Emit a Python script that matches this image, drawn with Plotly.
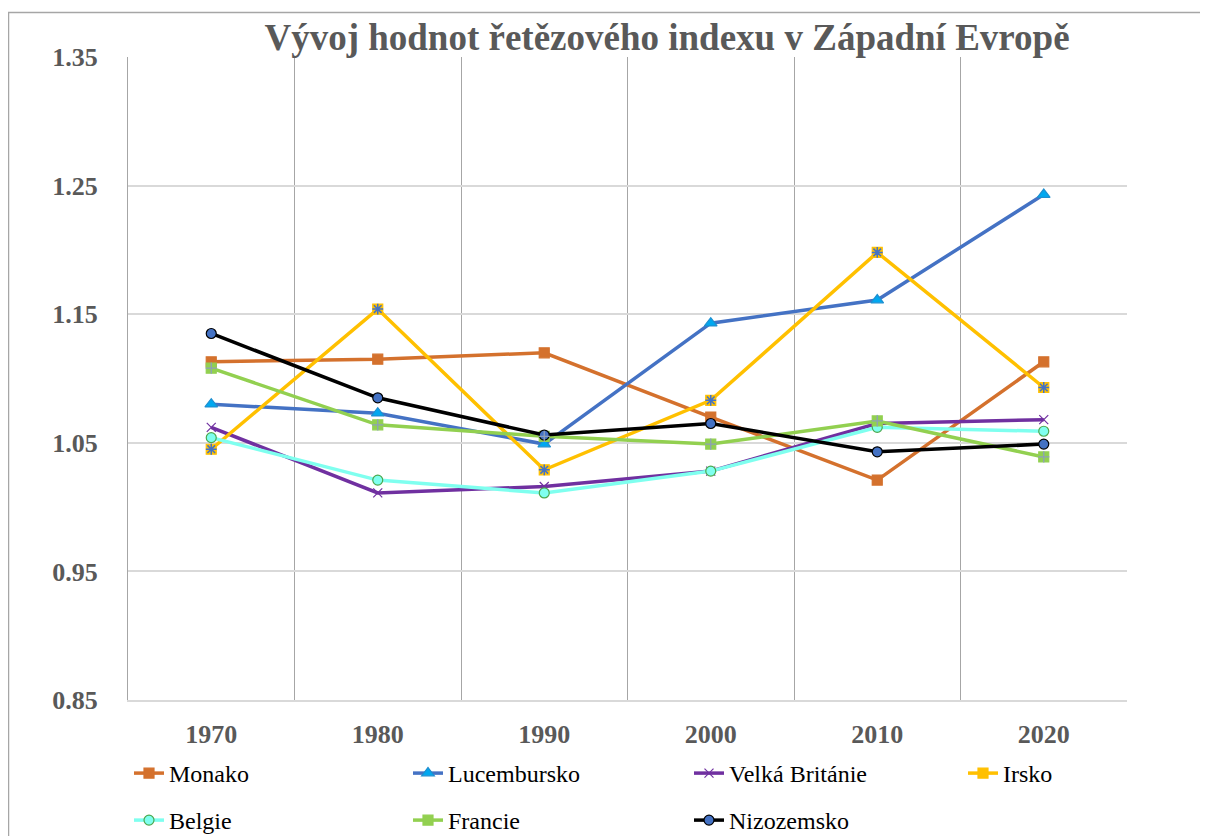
import plotly.graph_objects as go

years = ["1970", "1980", "1990", "2000", "2010", "2020"]
monako = [1.113, 1.115, 1.120, 1.070, 1.021, 1.113]
lucembursko = [1.080, 1.073, 1.049, 1.143, 1.161, 1.243]
velka_britanie = [1.062, 1.011, 1.016, 1.028, 1.065, 1.068]
irsko = [1.045, 1.154, 1.029, 1.083, 1.198, 1.093]
belgie = [1.054, 1.021, 1.011, 1.028, 1.062, 1.059]
francie = [1.108, 1.064, 1.055, 1.049, 1.067, 1.039]
nizozemsko = [1.135, 1.085, 1.056, 1.065, 1.043, 1.049]

title_text = "Vývoj hodnot řetězového indexu v Západní Evropě"
serif = "Liberation Serif"

# page body has an 8px default margin: figure is 1200x828 placed at (8, 8)
W, H, OFF = 1200, 828, 8


def cx(px):
    return (px - OFF) / W


def cy(py):
    return 1 - (py - OFF) / H


fig = go.Figure()

# legend positions (screen px of text start, row top)
leg_pos = {
    "legend": (170, 751), "legend2": (449, 751), "legend3": (730, 751), "legend4": (1004, 751),
    "legend5": (170, 798), "legend6": (449, 798), "legend7": (730, 798),
}


def add(name, y, color, symbol, mcolor, mline, legend, size=10, lw=3.5):
    fig.add_trace(go.Scatter(
        x=years, y=y, name=name, mode="lines+markers", legend=legend,
        line=dict(color=color, width=lw),
        marker=dict(symbol=symbol, size=size, color=mcolor,
                    line=dict(color=mline, width=1.2)),
    ))


add("Monako", monako, "#D4712D", "square", "#D4712D", "#D4712D", "legend")
add("Lucembursko", lucembursko, "#4472C4", "triangle-up", "#00A8F0", "#1E8FD0", "legend2", size=11)
add("Velká Británie", velka_britanie, "#7030A0", "x-thin", "#7030A0", "#7030A0", "legend3", size=9)
add("Irsko", irsko, "#FFC000", "square", "#FFC000", "#FFC000", "legend4")
add("Belgie", belgie, "#7FFFEF", "circle", "#7FFFEF", "#4DA84D", "legend5")
add("Francie", francie, "#92D050", "square", "#92D050", "#92D050", "legend6")
add("Nizozemsko", nizozemsko, "#000000", "circle", "#4472C4", "#000000", "legend7")

# overlay glyphs on markers (no legend entries)
fig.add_trace(go.Scatter(x=years, y=irsko, mode="markers", showlegend=False, hoverinfo="skip",
                         marker=dict(symbol="asterisk-open", size=9, color="#4472C4",
                                     line=dict(color="#4472C4", width=1.5))))
fig.add_trace(go.Scatter(x=years, y=francie, mode="markers", showlegend=False, hoverinfo="skip",
                         marker=dict(symbol="cross-thin-open", size=8, color="#8EA0B8",
                                     line=dict(color="#8EA0B8", width=1.3))))

legends = {}
for key, (tx, ty) in leg_pos.items():
    legends[key] = dict(orientation="h", xref="container", yref="container",
                        x=cx(tx - 41), y=cy(ty), xanchor="left", yanchor="top",
                        font=dict(family=serif, size=24, color="#000000"),
                        bgcolor="rgba(0,0,0,0)")

fig.update_layout(
    width=W, height=H,
    margin=dict(l=128 - OFF, r=1208 - 1127, t=57 - OFF, b=836 - 700, autoexpand=False),
    paper_bgcolor="white", plot_bgcolor="white",
    title=dict(text=title_text, xref="container", x=cx(667), xanchor="center",
               yref="container", y=cy(37), yanchor="middle",
               font=dict(family=serif, size=37, color="#595959", weight="bold")),
    font=dict(family=serif),
    shapes=[dict(type="rect", xref="paper", yref="paper",
                 x0=(8.5 - 128) / 999, x1=1.3, y0=-0.5, y1=1 + (57 - 12.5) / 643,
                 line=dict(color="#A6A6A6", width=1.5), layer="below")],
    **legends,
)

fig.update_xaxes(type="category", range=[-0.5, 5.5], tickson="boundaries",
                 showgrid=True, gridcolor="#A6A6A6", gridwidth=1.3,
                 showline=True, linecolor="#D9D9D9", linewidth=1.5,
                 ticks="", ticklabelstandoff=10,
                 tickfont=dict(family=serif, size=26, color="#595959", weight="bold"))
fig.update_yaxes(range=[0.85, 1.35], dtick=0.1, tick0=0.85, tickformat=".2f",
                 showgrid=True, gridcolor="#D9D9D9", gridwidth=1.5, zeroline=False,
                 showline=True, linecolor="#A6A6A6", linewidth=1.3,
                 ticks="", ticklabelstandoff=24,
                 tickfont=dict(family=serif, size=26, color="#595959", weight="bold"))

fig.write_html("out.html")
